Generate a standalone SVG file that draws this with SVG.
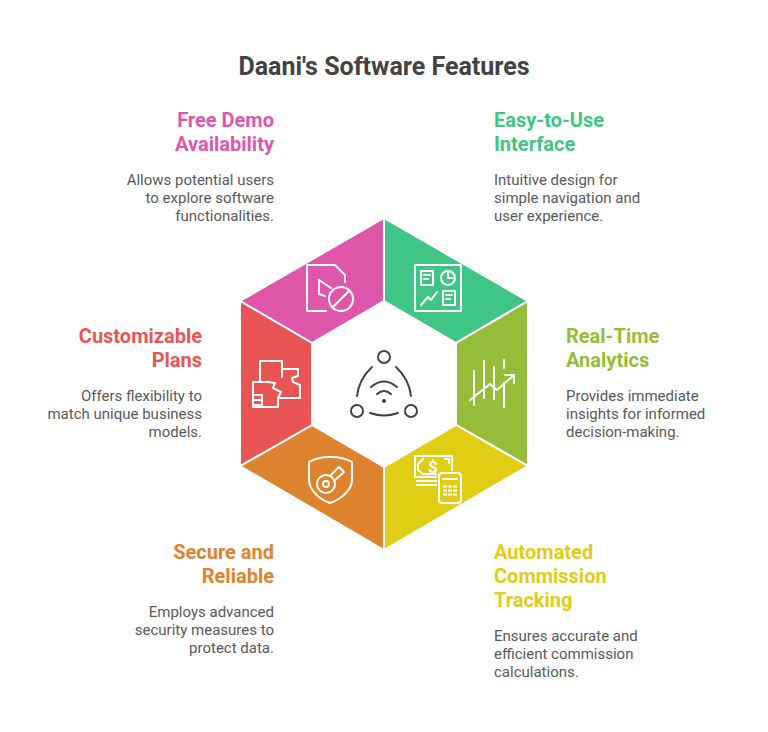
<svg xmlns="http://www.w3.org/2000/svg" width="768" height="732" viewBox="0 0 768 732">
<style>
text{font-family:Roboto,"Liberation Sans",sans-serif}
.t{font-size:25px;font-weight:700;fill:#434343}
.h{font-size:20px;font-weight:700}
.d{font-size:15px;fill:#595959}
.r{text-anchor:end}
.i{fill:none;stroke:#fff;stroke-width:2;stroke-linecap:round;stroke-linejoin:round}
.c{fill:none;stroke:#434343;stroke-width:2;stroke-linecap:round}
.seg{stroke:#fff;stroke-width:2;stroke-linejoin:miter}
</style>
<rect width="768" height="732" fill="#fff"/>
<text class="t" x="384" y="75" text-anchor="middle">Daani's Software Features</text>
<g id="free-demo">
<path class="seg" fill="#de57ab" d="M384 218L240 301L312 343L384 301Z"/>
<path class="i" d="M326 311H308A1 1 0 0 1 307 310V265H335L345 275V282M331 288L319 280V294L325 296"/>
<circle class="i" cx="341" cy="299" r="12"/><path class="i" d="M333 307L349 291"/>
<text class="h r" x="274" y="127" fill="#de57ab">Free Demo</text>
<text class="h r" x="274" y="151" fill="#de57ab">Availability</text>
<text class="d r" x="274" y="185">Allows potential users</text>
<text class="d r" x="274" y="203">to explore software</text>
<text class="d r" x="274" y="221">functionalities.</text>
</g>
<g id="easy-to-use">
<path class="seg" fill="#3fc687" d="M384 218L528 301L456 343L384 301Z"/>
<rect class="i" x="415" y="265" width="46" height="46" rx="1"/>
<rect class="i" x="421" y="271" width="12" height="14"/><path class="i" d="M424 275H430M424 279H428"/>
<circle class="i" cx="448" cy="278" r="7"/><path class="i" d="M448 271V278H455"/>
<path class="i" d="M421 305L428 297L431 300L437 292"/>
<rect class="i" x="443" y="291" width="12" height="14"/><path class="i" d="M446 295H452M446 299H450"/>
<text class="h" x="494" y="127" fill="#3fc687">Easy-to-Use</text>
<text class="h" x="494" y="151" fill="#3fc687">Interface</text>
<text class="d" x="494" y="185">Intuitive design for</text>
<text class="d" x="494" y="203">simple navigation and</text>
<text class="d" x="494" y="221">user experience.</text>
</g>
<g id="real-time">
<path class="seg" fill="#96bd39" d="M528 301V466L456 425V343Z"/>
<path class="i" d="M474 371V405M484 361V398M494 367V399M504 360V368M504 383V407M470 400L490 384L497 390L514 375M505 375H514V383"/>
<text class="h" x="566" y="343" fill="#96bd39">Real-Time</text>
<text class="h" x="566" y="367" fill="#96bd39">Analytics</text>
<text class="d" x="566" y="401">Provides immediate</text>
<text class="d" x="566" y="419">insights for informed</text>
<text class="d" x="566" y="437">decision-making.</text>
</g>
<g id="commission">
<path class="seg" fill="#e0cd14" d="M528 466L384 550V467L456 425Z"/>
<path class="i" d="M436 477H415V456H452V470M423 459L418 464V470L423 474H436M445 459H449V463M417 481H436M417 485H436"/>
<text x="433" y="473" font-size="17" font-weight="700" fill="#fff" text-anchor="middle">$</text>
<rect class="i" x="439" y="473" width="22" height="30" rx="3"/>
<path class="i" d="M443 479H457"/>
<path d="M443 486.500H457M443 490.500H457M443 494.500H457" fill="none" stroke="#fff" stroke-width="2" stroke-dasharray="4 1"/>
<text class="h" x="494" y="559" fill="#e0cd14">Automated</text>
<text class="h" x="494" y="583" fill="#e0cd14">Commission</text>
<text class="h" x="494" y="607" fill="#e0cd14">Tracking</text>
<text class="d" x="494" y="641">Ensures accurate and</text>
<text class="d" x="494" y="659">efficient commission</text>
<text class="d" x="494" y="677">calculations.</text>
</g>
<g id="secure">
<path class="seg" fill="#de832e" d="M240 466L384 550V467L312 425Z"/>
<path class="i" d="M330 457C339 457 347 459 352 462V480C352 490 340 500 330 503C320 500 309 490 309 480V462C314 459 321 457 330 457Z"/>
<circle class="i" cx="326" cy="484" r="9"/><circle class="i" cx="326" cy="484" r="3"/>
<path class="i" d="M330 476L339 467L344 472L334 481"/>
<text class="h r" x="274" y="559" fill="#de832e">Secure and</text>
<text class="h r" x="274" y="583" fill="#de832e">Reliable</text>
<text class="d r" x="274" y="617">Employs advanced</text>
<text class="d r" x="274" y="635">security measures to</text>
<text class="d r" x="274" y="653">protect data.</text>
</g>
<g id="customizable">
<path class="seg" fill="#e95555" d="M240 301V466L312 425V343Z"/>
<path class="i" d="M260 382V361H282V369H298V376L292 378L293 382L300 385V398H278V407H253V382H268L275 383L273 388L281 392L278 398"/>
<path class="i" d="M282 369V377M253 395H262M253 400H262M253 405H262M262 395V407"/>
<text class="h r" x="202" y="343" fill="#e95555">Customizable</text>
<text class="h r" x="202" y="367" fill="#e95555">Plans</text>
<text class="d r" x="202" y="401">Offers flexibility to</text>
<text class="d r" x="202" y="419">match unique business</text>
<text class="d r" x="202" y="437">models.</text>
</g>
<g id="center">
<circle class="c" cx="384" cy="357" r="6"/><circle class="c" cx="357" cy="411" r="6"/><circle class="c" cx="411" cy="411" r="6"/>
<path class="c" d="M372 367Q359 379 357 396M396 367Q409 379 411 396M370 413Q384 418 398 413M371 387Q384 376 397 387M377 394Q384 388 391 394"/>
<circle cx="384" cy="401" r="2" fill="#434343"/>
</g>
<g id="connectors"></g>
</svg>
